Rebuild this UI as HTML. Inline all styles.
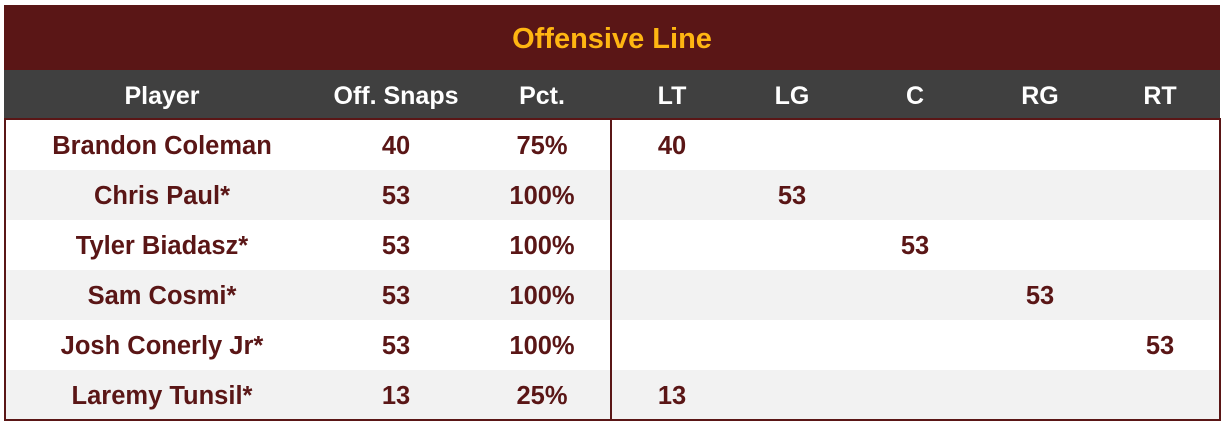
<!DOCTYPE html>
<html><head><style>
body{margin:0;width:1222px;height:421px;background:#fff;position:relative;overflow:hidden;font-family:"Liberation Sans",sans-serif;font-weight:bold}
.a{position:absolute}
.t{position:absolute;transform:translateX(-50%);white-space:nowrap;font-size:25.5px;color:#5a1616;line-height:28px}
.h{color:#fff;font-size:25px}
</style></head><body>
<div class="a" style="left:4px;top:5px;width:1216px;height:65px;background:#5a1616"></div>
<div class="t" style="left:612px;top:23px;color:#ffb612;font-size:29px;line-height:32px">Offensive Line</div>
<div class="a" style="left:4px;top:70px;width:1216px;height:48px;background:#404040"></div>
<div class="a" style="left:4px;top:118px;width:1216px;height:2px;background:#5a1616"></div>
<div class="a" style="left:6px;top:170px;width:1214px;height:50px;background:#f2f2f2"></div>
<div class="a" style="left:6px;top:270px;width:1214px;height:50px;background:#f2f2f2"></div>
<div class="a" style="left:6px;top:370px;width:1214px;height:49px;background:#f2f2f2"></div>
<div class="a" style="left:4px;top:118px;width:2px;height:303px;background:#5a1616"></div>
<div class="a" style="left:1219px;top:118px;width:2px;height:303px;background:#5a1616"></div>
<div class="a" style="left:4px;top:419px;width:1217px;height:2px;background:#5a1616"></div>
<div class="a" style="left:610px;top:118px;width:2px;height:303px;background:#5a1616"></div>

<div class="t h" style="left:162px;top:82px">Player</div>
<div class="t h" style="left:396px;top:82px">Off. Snaps</div>
<div class="t h" style="left:542px;top:82px">Pct.</div>
<div class="t h" style="left:672px;top:82px">LT</div>
<div class="t h" style="left:792px;top:82px">LG</div>
<div class="t h" style="left:915px;top:82px">C</div>
<div class="t h" style="left:1040px;top:82px">RG</div>
<div class="t h" style="left:1160px;top:82px">RT</div>

<div class="t" style="left:162px;top:132px">Brandon Coleman</div>
<div class="t" style="left:396px;top:132px">40</div>
<div class="t" style="left:542px;top:132px">75%</div>
<div class="t" style="left:672px;top:132px">40</div>

<div class="t" style="left:162px;top:182px">Chris Paul*</div>
<div class="t" style="left:396px;top:182px">53</div>
<div class="t" style="left:542px;top:182px">100%</div>
<div class="t" style="left:792px;top:182px">53</div>

<div class="t" style="left:162px;top:232px">Tyler Biadasz*</div>
<div class="t" style="left:396px;top:232px">53</div>
<div class="t" style="left:542px;top:232px">100%</div>
<div class="t" style="left:915px;top:232px">53</div>

<div class="t" style="left:162px;top:282px">Sam Cosmi*</div>
<div class="t" style="left:396px;top:282px">53</div>
<div class="t" style="left:542px;top:282px">100%</div>
<div class="t" style="left:1040px;top:282px">53</div>

<div class="t" style="left:162px;top:332px">Josh Conerly Jr*</div>
<div class="t" style="left:396px;top:332px">53</div>
<div class="t" style="left:542px;top:332px">100%</div>
<div class="t" style="left:1160px;top:332px">53</div>

<div class="t" style="left:162px;top:382px">Laremy Tunsil*</div>
<div class="t" style="left:396px;top:382px">13</div>
<div class="t" style="left:542px;top:382px">25%</div>
<div class="t" style="left:672px;top:382px">13</div>
</body></html>
